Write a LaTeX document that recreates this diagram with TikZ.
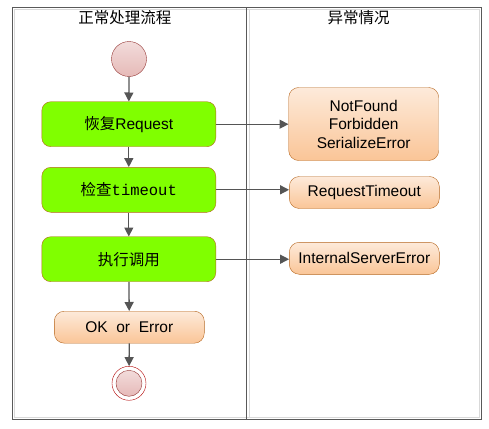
\documentclass[tikz,border=0pt]{standalone}
\usepackage{fontspec}
\setmainfont{Liberation Sans}
\setmonofont{Liberation Mono}
\newfontfamily\cjk{Noto Sans CJK SC}
\usetikzlibrary{arrows.meta}

\definecolor{stepgreen}{HTML}{80FF00}
\definecolor{stepedge}{HTML}{B5651D}
\definecolor{errtop}{HTML}{FDEADA}
\definecolor{errbot}{HTML}{FAC597}
\definecolor{dottop}{HTML}{F2DCDB}
\definecolor{dotbot}{HTML}{E6B9B8}
\definecolor{dotedge}{HTML}{953735}
\definecolor{flowgray}{HTML}{555555}

\tikzset{
  txt/.style={font=\fontsize{15.5}{18.5}\selectfont},
  stepbox/.style={txt,draw=stepedge,fill=stepgreen,rounded corners=9pt,
    minimum width=174pt,minimum height=45pt,inner sep=0pt},
  errbox/.style={txt,draw=stepedge,top color=errtop,bottom color=errbot,
    rounded corners=10pt,minimum width=150pt,inner sep=0pt,align=center},
  dot/.style={circle,draw=dotedge,top color=dottop,bottom color=dotbot,
    minimum size=#1,inner sep=0pt},
  flow/.style={draw=flowgray,line width=1.3pt,-{Triangle[length=9pt,width=9pt]}}
}

\begin{document}
\begin{tikzpicture}[x=1pt,y=-1pt]
    \useasboundingbox (0,0) rectangle (489,428);

    % swim lanes
    \draw[gray!30,line width=1pt] (14.5,9.5) rectangle (479.5,417.5);
    \draw[gray!30,line width=1pt] (249.3,9.5) -- (249.3,417.5);
    \draw[black!65,line width=1pt] (12,7.3) rectangle (481.7,419.3);
    \draw[black!65,line width=1pt] (246.7,7.3) -- (246.7,419.3);

    \node[txt] (left) at (124.8,17.5) {\cjk 正常处理流程};
    \node[txt] (right) at (358.7,17.5) {\cjk 异常情况};

    % normal flow
    \node[dot=35pt] (start) at (129,59) {};
    \node[stepbox] (g1) at (128.8,124.2) {\cjk 恢复\rmfamily Request};
    \node[stepbox] (g2) at (128.8,189.8) {\cjk 检查\ttfamily timeout};
    \node[stepbox] (g3) at (128.8,259.2) {\cjk 执行调用};
    \node[errbox,minimum height=32pt] (result) at (129.3,327.2) {OK\ \ or\ \ Error};
    \node[circle,draw=red!70!black,fill=white,minimum size=34pt,inner sep=0pt] (stop) at (129,383.3) {};
    \node[dot=26pt] (stopin) at (stop) {};

    % exceptions
    \node[errbox,minimum height=73pt] (ra) at (363.7,124) {NotFound\\Forbidden\\SerializeError};
    \node[errbox,minimum height=32pt] (rb) at (364.3,192.5) {RequestTimeout};
    \node[errbox,minimum height=32pt] (rc) at (364.3,258.3) {InternalServerError};

    \draw[flow] (start) -- (g1);
    \draw[flow] (g1) -- (g2);
    \draw[flow] (g2) -- (g3);
    \draw[flow] (g3) -- (result);
    \draw[flow] (result) -- (stop);

    \draw[flow] (g1.east) -- (g1.east -| ra.west);
    \draw[flow] (g2.east) -- (g2.east -| rb.west);
    \draw[flow] (g3.east) -- (g3.east -| rc.west);

\end{tikzpicture}
\end{document}
